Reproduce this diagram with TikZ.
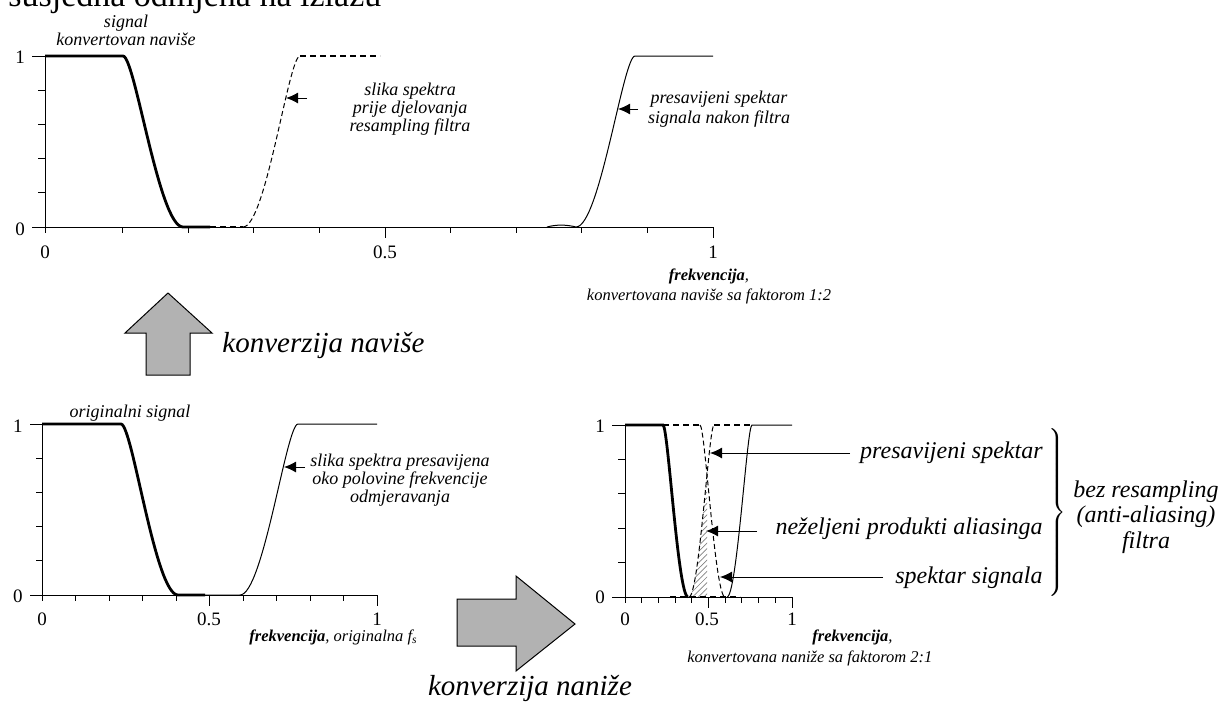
\documentclass[tikz,border=0pt]{standalone}
\usepackage{fontspec}
\setmainfont{Liberation Serif}
\usetikzlibrary{arrows.meta,patterns.meta}
\begin{document}
\begin{tikzpicture}[x=0.5pt,y=-0.5pt,
  axis/.style={line width=0.5pt},
  thickc/.style={line width=1.4pt},
  thinc/.style={line width=0.5pt},
  dashc/.style={line width=0.5pt,dash pattern=on 2.5pt off 1.5pt},
  dashb/.style={line width=0.9pt,dash pattern=on 3pt off 2pt},
  lbl/.style={inner sep=0pt,anchor=base,font=\fontsize{9}{10}\selectfont\itshape},
  big/.style={inner sep=0pt,font=\fontsize{12}{14}\selectfont\itshape},
  conv/.style={inner sep=0pt,font=\fontsize{14.5}{16}\selectfont\itshape},
  tickl/.style={inner sep=0pt,anchor=base,font=\fontsize{9.5}{11}\selectfont},
  capt/.style={inner sep=0pt,anchor=base,font=\fontsize{8.25}{10}\selectfont\itshape},
  ptr/.style={line width=0.5pt,-{Latex[length=6pt,width=5.5pt]}},
  blockarrow/.style={draw=black,line width=0.5pt,fill=black!30}
]
\useasboundingbox (0,0) rectangle (1227,707);
\clip (0,0) rectangle (1227,707);

% heading, cut off at the top edge
\node[anchor=base west,inner sep=0pt,font=\fontsize{17}{20}\selectfont] (title) at (8,6) {susjedna odmjena na izlazu};

%================ TOP PLOT =================
\draw[axis] (45,56) -- (45,233);
\draw[axis] (32,227) -- (713,227);
\draw[axis] (32,56) -- (45,56);
\foreach \k in {1,...,4} \draw[axis] (38,{56+34.2*\k}) -- (45,{56+34.2*\k});
\foreach \k in {1,2,3,4,6,7,8,9} \draw[axis] ({57+65.6*\k},227) -- ++(0,6);
\foreach \k in {5,10} \draw[axis] ({57+65.6*\k},227) -- ++(0,11);
\node[tickl] (t1) at (20,63) {1};
\node[tickl] (t0) at (20,235) {0};
\node[tickl] (tx0) at (45,258) {0};
\node[tickl] (tx5) at (385,258) {0.5};
\node[tickl] (tx1) at (713,258) {1};

\draw[thickc] (45,56) -- (123,56) .. controls (135,56) and (159,227) .. (183,227) -- (210,227);
\draw[dashb] (210,227) -- (243,227);
\draw[dashc] (243,227) .. controls (265.8,227) and (288.6,56) .. (300,56);
\draw[dashb] (300,56) -- (380,56);
\draw[thinc] (547,227) .. controls (556,224.5) and (566,224.5) .. (576,227)
  .. controls (599.6,227) and (623.2,56) .. (635,56) -- (713,56);

\node[lbl] (sig1) at (126,27) {signal};
\node[lbl] (sig2) at (126,45) {konvertovan naviše};

\node[lbl] (sl1) at (410,95) {slika spektra};
\node[lbl] (sl2) at (410,113) {prije djelovanja};
\node[lbl] (sl3) at (410,131) {resampling filtra};
\coordinate (a1tail) at (307,98);
\coordinate (a1tip) at (286,98);
\draw[ptr] (a1tail) -- (a1tip);

\node[lbl] (ps1) at (719,103) {presavijeni spektar};
\node[lbl] (ps2) at (719,123) {signala nakon filtra};
\coordinate (a2tail) at (638,109);
\coordinate (a2tip) at (618,109);
\draw[ptr] (a2tail) -- (a2tip);

\node[capt] (fq1) at (709,280) {\textbf{frekvencija},};
\node[capt] (fq2) at (709,300) {konvertovana naviše sa faktorom 1:2};

%================ UP ARROW =================
\draw[blockarrow] (168,293) -- (212,333) -- (190,333) -- (190,375) -- (146,375) -- (146,333) -- (125,333) -- cycle;
\node[conv,anchor=base west] (up) at (222,352) {konverzija naviše};

%================ BOTTOM LEFT PLOT =================
\draw[axis] (42,424) -- (42,601);
\draw[axis] (30,595) -- (377,595);
\draw[axis] (30,424) -- (42,424);
\foreach \k in {1,...,4} \draw[axis] (36,{424+34.2*\k}) -- (42,{424+34.2*\k});
\foreach \k in {1,2,3,4,6,7,8,9} \draw[axis] ({42+33.5*\k},595) -- ++(0,6);
\foreach \k in {5,10} \draw[axis] ({42+33.5*\k},595) -- ++(0,11);
\node[tickl] (b1) at (18,432) {1};
\node[tickl] (b0) at (18,602) {0};
\node[tickl] (bx0) at (42,625) {0};
\node[tickl] (bx5) at (209,625) {0.5};
\node[tickl] (bx1) at (377,625) {1};

\draw[thickc] (42,424) -- (121,424) .. controls (132.4,424) and (155.2,595) .. (178,595) -- (205,595);
\draw[thinc] (205,595) -- (240,595) .. controls (263.2,595) and (286.4,424) .. (298,424) -- (377,424);

\node[lbl] (orig) at (130,417) {originalni signal};
\node[lbl] (bl1) at (400,466) {slika spektra presavijena};
\node[lbl] (bl2) at (400,484) {oko polovine frekvencije};
\node[lbl] (bl3) at (400,502) {odmjeravanja};
\coordinate (a3tail) at (305,467);
\coordinate (a3tip) at (284,467);
\draw[ptr] (a3tail) -- (a3tip);

\node[capt,anchor=base east] (fqb) at (418,641) {\textbf{frekvencija}, originalna f\textsubscript{s}};

%================ RIGHT ARROW =================
\draw[blockarrow] (575,624) -- (516,576) -- (516,599) -- (457,599) -- (457,646) -- (516,646) -- (516,671) -- cycle;
\node[conv,anchor=base] (down) at (530,695) {konverzija naniže};

%================ BOTTOM RIGHT PLOT =================
\begin{scope}
\clip (680,440) rectangle (707,597);
\fill[pattern={Lines[angle=45,distance=2pt,line width=0.35pt]},pattern color=gray]
  (689,597) .. controls (699,597) and (709,425) .. (714,425) -- (714,597) -- cycle;
\end{scope}
\draw[axis] (625,425) -- (625,603);
\draw[axis] (612,597) -- (792,597);
\draw[axis] (612,425) -- (625,425);
\foreach \k in {1,...,4} \draw[axis] (618,{425+34.4*\k}) -- (625,{425+34.4*\k});
\foreach \k in {1,2,3,4,6,7,8,9} \draw[axis] ({625+16.7*\k},597) -- ++(0,6);
\foreach \k in {5,10} \draw[axis] ({625+16.7*\k},597) -- ++(0,11);
\node[tickl] (r1) at (600,432) {1};
\node[tickl] (r0) at (600,603) {0};
\node[tickl] (rx0) at (625,625) {0};
\node[tickl] (rx5) at (707,625) {0.5};
\node[tickl] (rx1) at (792,625) {1};

\draw[thickc] (625,425) -- (663,425) .. controls (668,425) and (678,597) .. (688,597);
\draw[dashb] (663,425) -- (700,425);
\draw[dashb] (714,425) -- (752,425);
\draw[dashb] (670,597) -- (740,597);
\draw[dashc] (700,425) .. controls (705,425) and (715,597) .. (725,597);
\draw[dashc] (689,597) .. controls (699,597) and (709,425) .. (714,425);
\draw[thinc] (727,597) .. controls (737,597) and (747,425) .. (752,425) -- (792,425);

\node[big,anchor=base east] (lps) at (1043,458) {presavijeni spektar};
\node[big,anchor=base east] (lal) at (1043,534) {neželjeni produkti aliasinga};
\node[big,anchor=base east] (lss) at (1043,583) {spektar signala};
\coordinate (p1tail) at (850,453);
\coordinate (p1tip) at (710,453);
\coordinate (p2tail) at (757,531);
\coordinate (p2tip) at (706,531);
\coordinate (p3tail) at (883,577);
\coordinate (p3tip) at (720,577);
\draw[ptr] (p1tail) -- (p1tip);
\draw[ptr] (p2tail) -- (p2tip);
\draw[ptr] (p3tail) -- (p3tip);

\node[inner sep=0pt,anchor=west] (brace) at (1046,513) {$\vcenter{\hbox{$\left.\vrule width 0pt height 40pt depth 40pt\right\}$}}$};
\node[big,anchor=base] (bz1) at (1146,497) {bez resampling};
\node[big,anchor=base] (bz2) at (1146,522) {(anti-aliasing)};
\node[big,anchor=base] (bz3) at (1146,548) {filtra};

\node[capt,anchor=base west] (fqr1) at (812,641) {\textbf{frekvencija},};
\node[capt,anchor=base west] (fqr2) at (687,662) {konvertovana naniže sa faktorom 2:1};
\end{tikzpicture}
\end{document}
